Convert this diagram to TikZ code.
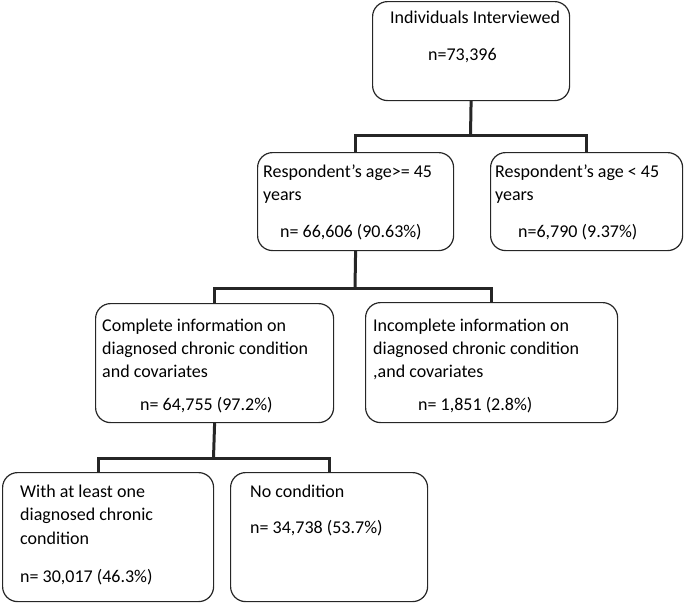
\documentclass[tikz,border=0pt]{standalone}
\usepackage{fontspec}
\setmainfont{Carlito}
\begin{document}
\begin{tikzpicture}[x=1pt,y=-1pt,
  box/.style={draw=black!85, line width=1.2pt, rounded corners=15pt, anchor=north west, inner sep=0pt},
  txt/.style={anchor=base west, inner sep=0pt, font=\fontsize{18}{22}\selectfont, text=black},
  conn/.style={draw=black!85, line width=3pt}]
\useasboundingbox (0,0) rectangle (685,603);
% boxes
\node[box, minimum width=197pt, minimum height=99pt] (b1) at (372,1) {};
\node[box, minimum width=196pt, minimum height=98pt] (b2) at (257,152) {};
\node[box, minimum width=192pt, minimum height=98pt] (b3) at (490,152) {};
\node[box, minimum width=238pt, minimum height=119pt] (b4) at (95,303) {};
\node[box, minimum width=252pt, minimum height=120pt] (b5) at (365,302) {};
\node[box, minimum width=211pt, minimum height=129pt] (b6) at (2,472) {};
\node[box, minimum width=197pt, minimum height=129pt] (b7) at (230,472) {};
% texts
\node[txt] (t1a) at (390,23) {Individuals Interviewed};
\node[txt] (t1b) at (428,60) {n=73,396};
\node[txt] (t2a) at (263,177) {Respondent’s age>= 45};
\node[txt] (t2b) at (263,200) {years};
\node[txt] (t2c) at (280,237) {n= 66,606 (90.63\%)};
\node[txt] (t3a) at (495,177) {Respondent’s age < 45};
\node[txt] (t3b) at (495,200) {years};
\node[txt] (t3c) at (518,237) {n=6,790 (9.37\%)};
\node[txt] (t4a) at (102,331) {Complete information on};
\node[txt] (t4b) at (102,354) {diagnosed chronic condition};
\node[txt] (t4c) at (102,377) {and covariates};
\node[txt] (t4d) at (140,410) {n= 64,755 (97.2\%)};
\node[txt] (t5a) at (373,331) {Incomplete information on};
\node[txt] (t5b) at (373,354) {diagnosed chronic condition};
\node[txt] (t5c) at (373,377) {,and covariates};
\node[txt] (t5d) at (418,410) {n= 1,851 (2.8\%)};
\node[txt] (t6a) at (20,497) {With at least one};
\node[txt] (t6b) at (20,520) {diagnosed chronic};
\node[txt] (t6c) at (20,544) {condition};
\node[txt] (t6d) at (20,582) {n= 30,017 (46.3\%)};
\node[txt] (t7a) at (250,497) {No condition};
\node[txt] (t7b) at (250,533) {n= 34,738 (53.7\%)};
% connectors
\coordinate (j1) at (470.5,135);
\coordinate (j2) at (355,288);
\coordinate (j3) at (213.5,458);
\draw[conn] (b1.south) -- (j1);
\draw[conn] (b2.north) |- (j1) -| (b3.north);
\draw[conn] (b2.south) -- (j2);
\draw[conn] (b4.north) |- (j2) -| (b5.north);
\draw[conn] (b4.south) -- (j3);
\draw[conn] ([xshift=-9.5pt]b6.north) |- (j3) -| (b7.north);
\end{tikzpicture}
\end{document}
